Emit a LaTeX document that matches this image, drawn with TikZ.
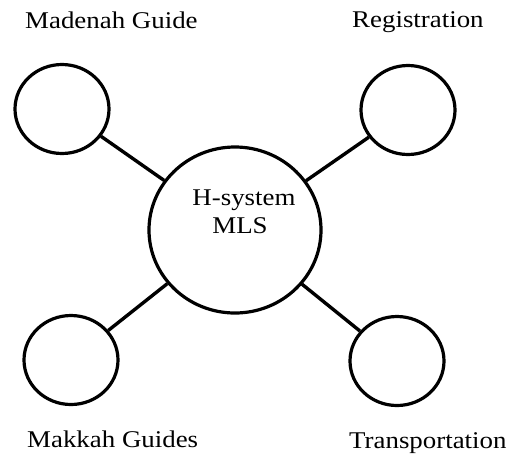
\documentclass[tikz,border=0pt]{standalone}
\usepackage{fontspec}
\setmainfont{Liberation Serif}
\usetikzlibrary{shapes.geometric}
\begin{document}
\begin{tikzpicture}[x=1pt,y=-1pt,
  hub/.style={ellipse,draw,line width=3.2pt,minimum width=172pt,minimum height=166pt,inner sep=0pt},
  leaf/.style={ellipse,draw,line width=3.2pt,minimum width=94pt,minimum height=89pt,inner sep=0pt},
  link/.style={line width=3.4pt},
  lbl/.style={font=\fontsize{24}{28}\selectfont,inner sep=0pt,anchor=base west,xscale=1.12,transform shape}]
\useasboundingbox (0,0) rectangle (509,456);
\node[hub] (c) at (235,230) {};
\node[leaf] (tl) at (62,109) {};
\node[leaf] (tr) at (408,110) {};
\node[leaf] (bl) at (71,360) {};
\node[leaf] (br) at (397,361) {};
\draw[link] (c) -- (tl);
\draw[link] (c) -- (tr);
\draw[link] (c) -- (bl);
\draw[link] (c) -- (br);
\node[lbl] (t1) at (25,28) {Madenah Guide};
\node[lbl] (t2) at (352,27) {Registration};
\node[lbl] (t3) at (27,447) {Makkah Guides};
\node[lbl] (t4) at (349,448) {Transportation};
\node[lbl,anchor=base] (h1) at (244,205) {H-system};
\node[lbl,anchor=base] (h2) at (240,233) {MLS};
\end{tikzpicture}
\end{document}
